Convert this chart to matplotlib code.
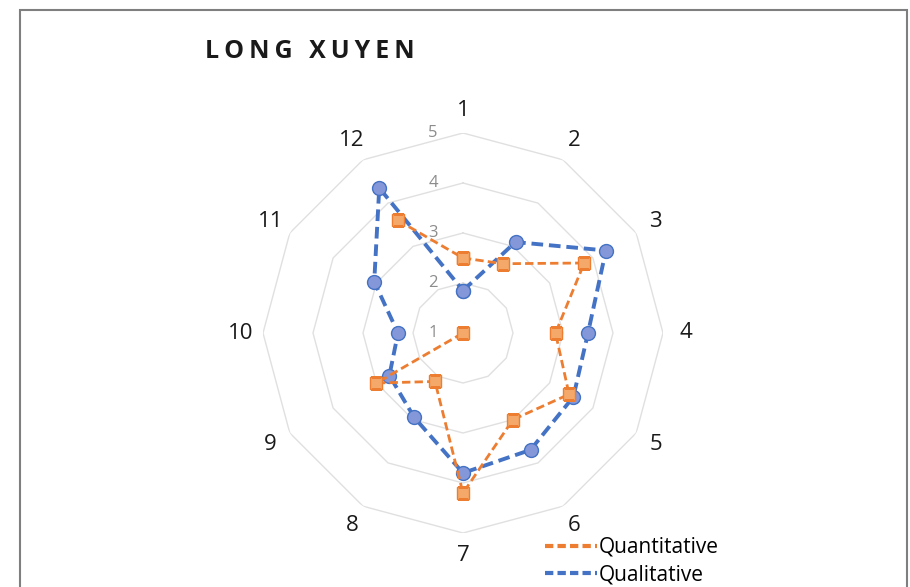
import numpy as np
import matplotlib
matplotlib.use("Agg")
import matplotlib.pyplot as plt
from matplotlib.lines import Line2D
from matplotlib.patches import Rectangle
from matplotlib.transforms import offset_copy

plt.rcParams['font.family'] = ['Open Sans', 'DejaVu Sans']

# datos
categories = ['1', '2', '3', '4', '5', '6', '7', '8', '9', '10', '11', '12']
quantitative = [2.5, 2.6, 3.8, 2.85, 3.45, 3.0, 4.2, 2.12, 3.0, 1.0, np.nan, 3.6]
qualitative = [1.85, 3.1, 4.3, 3.5, 3.55, 3.7, 3.8, 2.95, 2.7, 2.3, 3.05, 4.35]
rings = [1, 2, 3, 4, 5]
title = "LONG XUYEN"

orange = '#ED7D31'
blue = '#4472C4'

n = len(categories)
theta = np.arange(n) * 2 * np.pi / n
theta_c = np.append(theta, theta[0])

fig = plt.figure(figsize=(9.1, 5.87), dpi=100)

# marco
fig.patches.append(Rectangle((20 / 910, -0.05), 887 / 910, 1.05 - 10 / 587,
                             transform=fig.transFigure, fill=False,
                             edgecolor='#7f7f7f', linewidth=1.5))

ax = fig.add_axes([263 / 910, 54 / 587, 400 / 910, 400 / 587], projection='polar')
ax.set_theta_zero_location('N')
ax.set_theta_direction(-1)
ax.set_ylim(1, 5)
ax.set_yticks([])
ax.set_xticks([])
ax.grid(False)
ax.spines['polar'].set_visible(False)
ax.set_facecolor('none')

# rejilla poligonal (sin radios)
for r in rings[1:]:
    ax.plot(theta_c, np.full(n + 1, r), color='#e0e0e0', linewidth=1.0, zorder=1)

# etiquetas de los ejes
for t, lab in zip(theta, categories):
    ax.text(t, 5.45, lab, ha='center', va='center', fontsize=16, color='#1a1a1a')

# etiquetas radiales
trans = offset_copy(ax.transData, fig=fig, x=-30, y=0, units='dots')
for r in rings:
    ax.text(0, r, str(r), transform=trans, ha='center', va='center',
            fontsize=12, color='#8c8c8c')

q = np.append(quantitative, quantitative[0])
l = np.append(qualitative, qualitative[0])

ax.plot(theta_c, l, linestyle=(0, (3, 1.5)), color=blue, linewidth=2.8,
        marker='o', markersize=10, markerfacecolor='#8497D8',
        markeredgecolor=blue, markeredgewidth=1, zorder=3)
ax.plot(theta_c, q, linestyle=(0, (3, 1.5)), color=orange, linewidth=2.0,
        marker='s', markersize=9, markerfacecolor='#F4A96A',
        markeredgecolor=orange, markeredgewidth=1, zorder=4)

fig.text(205 / 910, 1 - 52 / 587, "\u2009".join(title), fontsize=18,
         fontweight='bold', color='#1a1a1a', ha='left', va='center')

handles = [Line2D([], [], color=orange, linestyle=(0, (2, 1)), linewidth=3),
           Line2D([], [], color=blue, linestyle=(0, (2, 1)), linewidth=3)]
fig.legend(handles, ['Quantitative', 'Qualitative'], loc='center left',
           bbox_to_anchor=(545 / 910, 1 - 561 / 587), frameon=False,
           fontsize=15, handlelength=2.5, handletextpad=0.1, labelspacing=0.3,
           borderaxespad=0, borderpad=0)

fig.savefig('out.png', dpi=100)
